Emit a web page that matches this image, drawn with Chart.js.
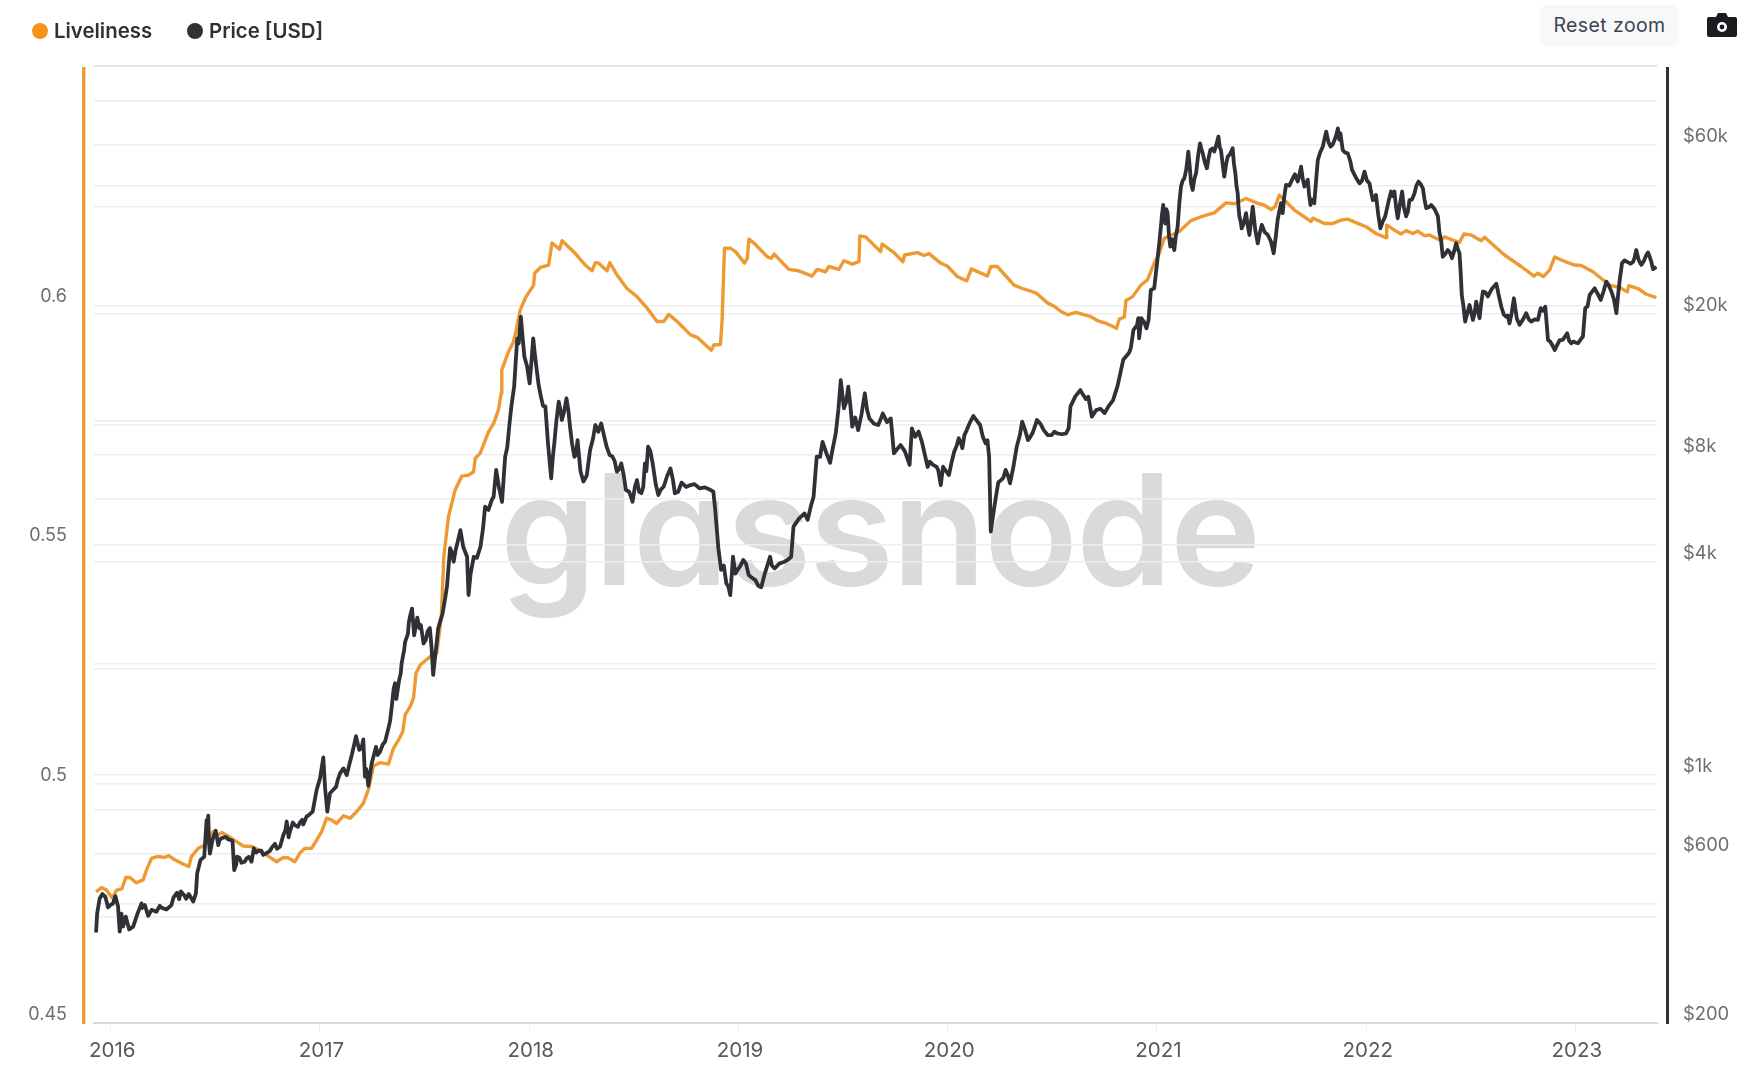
<!DOCTYPE html>
<html lang="en">
<head>
    <meta charset="UTF-8">
    <title>Liveliness vs Price</title>
    <style>
        body {
            font-family: 'Inter', sans-serif;
            margin: 0;
            padding: 0;
            background-color: #fff;
            width: 1755px;
            height: 1080px;
            position: relative;
            overflow: hidden;
        }

        #chartContainer {
            position: absolute;
            left: 0;
            top: 0;
        }

        #watermark {
            position: absolute;
            left: 500px;
            top: 434px;
            font-size: 154px;
            line-height: 190px;
            font-weight: 600;
            color: #dadada;
            font-feature-settings: 'cv11';
            letter-spacing: -2px;
        }

        .legendItem {
            position: absolute;
            top: 19px;
            font-size: 20.4px;
            line-height: 24px;
            font-weight: 600;
            color: #2f3136;
        }

        .legendItem i {
            position: absolute;
            left: -22px;
            top: 4px;
            width: 16px;
            height: 16px;
            border-radius: 50%;
        }

        #resetZoom {
            position: absolute;
            left: 1540px;
            top: 5px;
            width: 139px;
            height: 41px;
            line-height: 40px;
            text-align: center;
            background-color: #f7f8fa;
            border-radius: 6px;
            font-size: 19.5px;
            letter-spacing: 0.4px;
            color: #3c4250;
        }

        #camera {
            position: absolute;
            left: 1707px;
            top: 12px;
        }
    </style>
</head>
<body>
    <div id="watermark">glassnode</div>
    <canvas id="chartContainer" width="1755" height="1080"></canvas>

    <div class="legendItem" style="left: 54px"><i style="background: #f7931a"></i>Liveliness</div>
    <div class="legendItem" style="left: 209px"><i style="background: #2f3136"></i>Price [USD]</div>
    <div id="resetZoom">Reset zoom</div>
    <svg id="camera" width="30" height="26" viewBox="0 0 30 26">
        <path d="M2 5h7l2-4h8l2 4h7a2 2 0 0 1 2 2v16a2 2 0 0 1-2 2H2a2 2 0 0 1-2-2V7a2 2 0 0 1 2-2z" fill="#1b1c1f"/>
        <circle cx="15" cy="15" r="5" fill="#fff"/>
        <circle cx="15" cy="15" r="2.4" fill="#1b1c1f"/>
    </svg>

    <script src="https://cdn.jsdelivr.net/npm/chart.js"></script>
    <script>
        const yearTicks = [2016, 2017, 2018, 2019, 2020, 2021, 2022, 2023];
        const liveTicks = [0.45, 0.475, 0.5, 0.525, 0.55, 0.575, 0.6, 0.625, 0.65];
        const liveTickLabels = ['0.45', '', '0.5', '', '0.55', '', '0.6', '', ''];
        const priceTicks = [200, 400, 600, 800, 1000, 2000, 4000, 6000, 8000, 10000, 20000, 40000, 60000, 80000, 100000];
        const priceTickLabels = ['$200', '', '$600', '', '$1k', '', '$4k', '', '$8k', '', '$20k', '', '$60k', '', ''];

        const liveDates = [
            2015.93, 2015.956, 2015.979, 2016.008, 2016.027, 2016.054, 2016.072, 2016.091, 2016.123, 2016.155, 2016.171, 2016.195,
            2016.226, 2016.258, 2016.277, 2016.306, 2016.338, 2016.373, 2016.386, 2016.418, 2016.45, 2016.49, 2016.514, 2016.53,
            2016.57, 2016.601, 2016.633, 2016.673, 2016.705, 2016.745, 2016.793, 2016.825, 2016.849, 2016.88, 2016.904, 2016.928,
            2016.96, 2016.984, 2017.008, 2017.032, 2017.056, 2017.08, 2017.112, 2017.144, 2017.176, 2017.207, 2017.231, 2017.255,
            2017.287, 2017.327, 2017.351, 2017.375, 2017.396, 2017.407, 2017.431, 2017.447, 2017.459, 2017.479, 2017.527, 2017.558,
            2017.566, 2017.58, 2017.592, 2017.614, 2017.646, 2017.678, 2017.71, 2017.734, 2017.742, 2017.766, 2017.806, 2017.83,
            2017.853, 2017.866, 2017.869, 2017.901, 2017.925, 2017.938, 2017.957, 2017.981, 2018.021, 2018.026, 2018.053, 2018.093,
            2018.109, 2018.145, 2018.157, 2018.212, 2018.268, 2018.3, 2018.316, 2018.332, 2018.372, 2018.385, 2018.42, 2018.467,
            2018.515, 2018.563, 2018.611, 2018.643, 2018.667, 2018.707, 2018.771, 2018.803, 2018.87, 2018.882, 2018.914, 2018.922,
            2018.933, 2018.962, 2018.986, 2019.029, 2019.042, 2019.05, 2019.074, 2019.138, 2019.157, 2019.17, 2019.241, 2019.288,
            2019.352, 2019.376, 2019.416, 2019.432, 2019.48, 2019.504, 2019.544, 2019.576, 2019.58, 2019.607, 2019.679, 2019.687,
            2019.743, 2019.786, 2019.794, 2019.855, 2019.887, 2019.911, 2019.966, 2019.998, 2020.046, 2020.091, 2020.113, 2020.19,
            2020.206, 2020.237, 2020.317, 2020.357, 2020.421, 2020.477, 2020.509, 2020.541, 2020.573, 2020.612, 2020.684, 2020.716,
            2020.764, 2020.807, 2020.82, 2020.844, 2020.852, 2020.884, 2020.923, 2020.955, 2020.987, 2021.011, 2021.035, 2021.107,
            2021.163, 2021.211, 2021.274, 2021.33, 2021.37, 2021.426, 2021.482, 2021.514, 2021.546, 2021.565, 2021.585, 2021.609,
            2021.657, 2021.737, 2021.745, 2021.801, 2021.841, 2021.88, 2021.912, 2021.96, 2022.0, 2022.047, 2022.095, 2022.098,
            2022.135, 2022.167, 2022.191, 2022.223, 2022.247, 2022.279, 2022.303, 2022.358, 2022.374, 2022.446, 2022.467, 2022.502,
            2022.55, 2022.566, 2022.661, 2022.741, 2022.802, 2022.821, 2022.847, 2022.877, 2022.901, 2022.941, 2022.996, 2023.028,
            2023.084, 2023.124, 2023.164, 2023.212, 2023.248, 2023.255, 2023.299, 2023.339, 2023.387
        ];
        const liveValues = [
            0.4774, 0.4783, 0.4778, 0.4761, 0.4777, 0.4781, 0.4804, 0.4804, 0.4793, 0.4799, 0.482, 0.4844,
            0.4848, 0.4846, 0.485, 0.4841, 0.4834, 0.4827, 0.4848, 0.4865, 0.4872, 0.49, 0.4893, 0.4898,
            0.4888, 0.4879, 0.487, 0.4869, 0.4862, 0.4851, 0.4837, 0.4846, 0.4845, 0.4837, 0.4855, 0.4865,
            0.4865, 0.4882, 0.49, 0.4928, 0.4924, 0.4917, 0.4933, 0.4928, 0.4942, 0.4959, 0.4987, 0.5037,
            0.5044, 0.5041, 0.5074, 0.5091, 0.5109, 0.5144, 0.5161, 0.5179, 0.5231, 0.5248, 0.5266, 0.5273,
            0.53, 0.5349, 0.5475, 0.5558, 0.5614, 0.5643, 0.5645, 0.5652, 0.568, 0.5691, 0.5736, 0.5753,
            0.5781, 0.5816, 0.5865, 0.5903, 0.5924, 0.5948, 0.599, 0.6015, 0.6042, 0.6067, 0.6079, 0.6084,
            0.613, 0.6117, 0.6135, 0.6112, 0.6084, 0.6072, 0.6089, 0.6088, 0.6072, 0.6089, 0.6063, 0.6035,
            0.6018, 0.5994, 0.5966, 0.5966, 0.5981, 0.5966, 0.5938, 0.5933, 0.5906, 0.5917, 0.5918, 0.5969,
            0.6119, 0.6119, 0.6112, 0.6088, 0.6098, 0.6138, 0.613, 0.6101, 0.6098, 0.6107, 0.6075, 0.6072,
            0.6061, 0.6075, 0.607, 0.6081, 0.6075, 0.6093, 0.6086, 0.6091, 0.6145, 0.6143, 0.6112, 0.6128,
            0.611, 0.6091, 0.6105, 0.611, 0.6104, 0.6108, 0.6088, 0.6082, 0.606, 0.6051, 0.6076, 0.6061,
            0.6081, 0.6081, 0.6042, 0.6035, 0.6026, 0.6005, 0.5998, 0.5987, 0.598, 0.5985, 0.5976, 0.5968,
            0.5961, 0.5952, 0.5971, 0.5975, 0.601, 0.6018, 0.6042, 0.6053, 0.6088, 0.6108, 0.614, 0.6154,
            0.6177, 0.6185, 0.6193, 0.6214, 0.6212, 0.6223, 0.6213, 0.6209, 0.62, 0.6206, 0.623, 0.622,
            0.6199, 0.6175, 0.6182, 0.6171, 0.6171, 0.6178, 0.618, 0.6171, 0.6164, 0.615, 0.6141, 0.6168,
            0.6157, 0.6149, 0.6156, 0.615, 0.6155, 0.6145, 0.6147, 0.6135, 0.6143, 0.6131, 0.6149, 0.6147,
            0.6135, 0.6142, 0.6105, 0.6081, 0.6061, 0.6067, 0.606, 0.6074, 0.6101, 0.6093, 0.6084, 0.6083,
            0.607, 0.6056, 0.6042, 0.6037, 0.6028, 0.6041, 0.6035, 0.6023, 0.6016
        ];

        const priceDates = [
            2015.93, 2015.935, 2015.947, 2015.96, 2015.974, 2015.987, 2015.998, 2016.011, 2016.022, 2016.035, 2016.043, 2016.051,
            2016.059, 2016.072, 2016.088, 2016.107, 2016.128, 2016.147, 2016.163, 2016.179, 2016.195, 2016.218, 2016.242, 2016.266,
            2016.29, 2016.317, 2016.327, 2016.354, 2016.373, 2016.394, 2016.407, 2016.413, 2016.429, 2016.447, 2016.458, 2016.466,
            2016.474, 2016.486, 2016.502, 2016.514, 2016.529, 2016.55, 2016.582, 2016.59, 2016.604, 2016.625, 2016.649, 2016.673,
            2016.684, 2016.705, 2016.729, 2016.761, 2016.785, 2016.809, 2016.825, 2016.841, 2016.856, 2016.88, 2016.904, 2016.92,
            2016.936, 2016.965, 2016.984, 2017.0, 2017.016, 2017.024, 2017.035, 2017.048, 2017.077, 2017.096, 2017.112, 2017.128,
            2017.152, 2017.172, 2017.188, 2017.207, 2017.215, 2017.231, 2017.247, 2017.268, 2017.287, 2017.311, 2017.327, 2017.343,
            2017.359, 2017.37, 2017.386, 2017.396, 2017.407, 2017.42, 2017.43, 2017.44, 2017.45, 2017.465, 2017.482, 2017.505,
            2017.525, 2017.541, 2017.565, 2017.586, 2017.607, 2017.622, 2017.639, 2017.671, 2017.703, 2017.71, 2017.735, 2017.767,
            2017.789, 2017.821, 2017.842, 2017.87, 2017.885, 2017.906, 2017.928, 2017.943, 2017.96, 2017.977, 2018.002, 2018.019,
            2018.034, 2018.056, 2018.077, 2018.105, 2018.12, 2018.141, 2018.156, 2018.178, 2018.195, 2018.216, 2018.231, 2018.259,
            2018.291, 2018.316, 2018.344, 2018.37, 2018.398, 2018.419, 2018.44, 2018.462, 2018.494, 2018.515, 2018.536, 2018.553,
            2018.568, 2018.59, 2018.617, 2018.643, 2018.675, 2018.696, 2018.728, 2018.771, 2018.814, 2018.867, 2018.889, 2018.904,
            2018.917, 2018.942, 2018.961, 2018.974, 2018.996, 2019.023, 2019.049, 2019.081, 2019.109, 2019.124, 2019.151, 2019.173,
            2019.22, 2019.252, 2019.263, 2019.316, 2019.331, 2019.359, 2019.374, 2019.402, 2019.438, 2019.465, 2019.489, 2019.504,
            2019.525, 2019.544, 2019.572, 2019.604, 2019.626, 2019.668, 2019.69, 2019.728, 2019.743, 2019.775, 2019.818, 2019.829,
            2019.861, 2019.893, 2019.914, 2019.946, 2019.967, 2019.978, 2020.006, 2020.031, 2020.053, 2020.07, 2020.091, 2020.123,
            2020.155, 2020.181, 2020.198, 2020.206, 2020.228, 2020.256, 2020.277, 2020.298, 2020.33, 2020.356, 2020.384, 2020.405,
            2020.427, 2020.459, 2020.497, 2020.523, 2020.566, 2020.587, 2020.634, 2020.66, 2020.672, 2020.689, 2020.71, 2020.73,
            2020.75, 2020.77, 2020.79, 2020.812, 2020.839, 2020.866, 2020.875, 2020.888, 2020.911, 2020.915, 2020.926, 2020.95,
            2020.96, 2020.971, 2020.987, 2021.006, 2021.019, 2021.03, 2021.04, 2021.051, 2021.064, 2021.083, 2021.099, 2021.115,
            2021.131, 2021.15, 2021.163, 2021.171, 2021.187, 2021.206, 2021.219, 2021.239, 2021.255, 2021.274, 2021.294, 2021.306,
            2021.322, 2021.338, 2021.362, 2021.375, 2021.386, 2021.394, 2021.405, 2021.426, 2021.442, 2021.458, 2021.482, 2021.501,
            2021.53, 2021.558, 2021.577, 2021.593, 2021.601, 2021.617, 2021.649, 2021.673, 2021.689, 2021.705, 2021.721, 2021.734,
            2021.752, 2021.769, 2021.793, 2021.809, 2021.83, 2021.849, 2021.865, 2021.877, 2021.888, 2021.912, 2021.925, 2021.941,
            2021.968, 2021.992, 2022.016, 2022.032, 2022.047, 2022.068, 2022.091, 2022.119, 2022.135, 2022.151, 2022.172, 2022.191,
            2022.207, 2022.231, 2022.25, 2022.271, 2022.287, 2022.311, 2022.343, 2022.358, 2022.366, 2022.39, 2022.41, 2022.43,
            2022.446, 2022.457, 2022.473, 2022.494, 2022.51, 2022.526, 2022.542, 2022.558, 2022.582, 2022.622, 2022.646, 2022.669,
            2022.685, 2022.706, 2022.733, 2022.765, 2022.789, 2022.821, 2022.834, 2022.856, 2022.869, 2022.893, 2022.901, 2022.925,
            2022.961, 2022.98, 2023.012, 2023.036, 2023.047, 2023.068, 2023.092, 2023.121, 2023.148, 2023.172, 2023.196, 2023.212,
            2023.223, 2023.252, 2023.276, 2023.291, 2023.315, 2023.339, 2023.355, 2023.371, 2023.387
        ];
        const priceValues = [
            360, 407, 449, 462, 454, 424, 430, 435, 456, 426, 362, 407,
            374, 399, 367, 374, 407, 435, 430, 401, 417, 412, 423, 418,
            430, 466, 447, 456, 462, 440, 464, 528, 577, 589, 747, 769,
            601, 656, 697, 635, 664, 670, 653, 540, 589, 566, 582, 570,
            622, 612, 596, 612, 640, 628, 678, 740, 692, 723, 735, 726,
            764, 789, 908, 979, 1122, 927, 789, 889, 927, 1012, 1045, 1000,
            1140, 1288, 1178, 1262, 991, 933, 1079, 1202, 1164, 1242, 1355, 1560,
            1816, 1718, 1936, 2158, 2377, 2500, 2800, 2950, 2480, 2780, 2650, 2400,
            2600, 1917, 2594, 2858, 3404, 4365, 3999, 4909, 4130, 3221, 4130, 4406,
            5715, 5970, 7261, 5902, 7907, 9817, 12470, 17060, 19630, 15136, 12735, 17060,
            14190, 11680, 10965, 6871, 8630, 11300, 10040, 11560, 9610, 7907, 8810, 6730,
            8260, 9716, 9817, 8440, 7907, 7178, 7573, 6368, 5902, 6795, 6237, 7573,
            8440, 7573, 6166, 6516, 7328, 6237, 6683, 6577, 6442, 6368, 5598, 4365,
            3793, 3475, 3221, 4130, 3793, 4046, 3669, 3548, 3388, 3669, 4130, 3828,
            3999, 4130, 5023, 5470, 5248, 6095, 7907, 8710, 7603, 9204, 13000, 10830,
            12470, 9610, 9400, 11940, 10140, 9716, 10470, 10140, 8090, 8530, 7500, 9506,
            9311, 7907, 7656, 7413, 6577, 7413, 7022, 8166, 8913, 8356, 9400, 10300,
            9716, 8630, 7907, 4864, 5970, 6795, 7261, 6653, 8440, 9931, 8810, 9204,
            10040, 9400, 9099, 9204, 9204, 10965, 12190, 11500, 11680, 10257, 10700, 10800,
            10500, 11000, 11400, 12530, 14840, 15500, 16000, 18030, 19440, 17060, 19440, 18200,
            19230, 23350, 23600, 29650, 35240, 40550, 35970, 38460, 30970, 30270, 35240, 45700,
            48190, 57350, 46670, 44700, 49800, 60530, 56750, 51460, 57940, 57350, 63240, 57940,
            48750, 55460, 58610, 49800, 43750, 37670, 34830, 38460, 33380, 40090, 31620, 35650,
            33380, 29650, 36810, 41020, 38460, 46190, 48190, 47210, 52000, 45700, 47750, 40550,
            41020, 54330, 59250, 65310, 59250, 61860, 66680, 64570, 57940, 56750, 53700, 49800,
            46670, 50350, 46670, 41880, 43250, 34830, 37670, 44260, 44260, 37200, 44260, 37670,
            41880, 43750, 47210, 45190, 39720, 40550, 37670, 32300, 28970, 30270, 28710, 31620,
            29650, 22590, 19010, 21180, 19230, 21660, 19440, 23120, 22390, 24320, 20940, 19630,
            18800, 22130, 18620, 20090, 19010, 19230, 20750, 20940, 16870, 16180, 15810, 16870,
            17620, 16520, 16520, 17260, 20750, 22590, 23600, 21880, 24660, 23120, 20090, 24950,
            27800, 27930, 28050, 30270, 27480, 29310, 28970, 26730, 27160
        ];

        // the finer wiggles of the price line
        const detailDates = [
            2016.15, 2016.235, 2016.3, 2016.335, 2016.36, 2016.46, 2016.47, 2016.495, 2016.52, 2016.56, 2016.6, 2016.615,
            2016.64, 2016.66, 2016.695, 2016.72, 2016.75, 2016.77, 2016.795, 2016.835, 2016.85, 2016.87, 2016.895, 2016.915,
            2016.95, 2016.975, 2017.04, 2017.06, 2017.085, 2017.14, 2017.165, 2017.2, 2017.222, 2017.24, 2017.275, 2017.3,
            2017.335, 2017.352, 2017.365, 2017.378, 2017.39, 2017.402, 2017.425, 2017.475, 2017.495, 2017.515, 2017.533, 2017.575,
            2017.6, 2017.615, 2017.63, 2017.648, 2017.66, 2017.685, 2017.72, 2017.75, 2017.78, 2017.805, 2017.83, 2017.855,
            2017.895, 2017.915, 2017.935, 2017.95, 2017.968, 2017.99, 2018.01, 2018.027, 2018.045, 2018.066, 2018.09, 2018.113,
            2018.13, 2018.148, 2018.167, 2018.187, 2018.205, 2018.223, 2018.245, 2018.275, 2018.305, 2018.33, 2018.357, 2018.384,
            2018.408, 2018.43, 2018.452, 2018.478, 2018.505, 2018.525, 2018.545, 2018.56, 2018.579, 2018.605, 2018.63, 2018.66,
            2018.687, 2018.712, 2018.75, 2018.79, 2018.84, 2018.88, 2018.91, 2018.93, 2018.952, 2018.985, 2019.01, 2019.036,
            2019.065, 2019.095, 2019.135, 2019.16, 2019.195, 2019.236, 2019.29, 2019.345, 2019.39, 2019.42, 2019.45, 2019.478,
            2019.515, 2019.535, 2019.558, 2019.588, 2019.615, 2019.648, 2019.68, 2019.71, 2019.758, 2019.795, 2019.845, 2019.877,
            2019.904, 2019.93, 2019.955, 2019.992, 2020.018, 2020.043, 2020.062, 2020.08, 2020.107, 2020.139, 2020.168, 2020.19,
            2020.217, 2020.242, 2020.266, 2020.288, 2020.314, 2020.345, 2020.37, 2020.395, 2020.416, 2020.443, 2020.478, 2020.51,
            2020.545, 2020.578, 2020.61, 2020.648, 2020.905, 2020.94, 2020.995, 2021.012, 2021.024, 2021.035, 2021.045, 2021.058,
            2021.072, 2021.09, 2021.107, 2021.123, 2021.14, 2021.157, 2021.179, 2021.197, 2021.212, 2021.229, 2021.247, 2021.265,
            2021.284, 2021.3, 2021.314, 2021.33, 2021.35, 2021.368, 2021.38, 2021.39, 2021.4, 2021.415, 2021.434, 2021.45,
            2021.47, 2021.49, 2021.515, 2021.545, 2021.568, 2021.585, 2021.609, 2021.633, 2021.66, 2021.68, 2021.697, 2021.712,
            2021.727, 2021.743, 2021.76, 2021.78, 2021.8, 2021.82, 2021.84, 2021.857, 2021.871, 2021.9, 2021.932, 2021.955,
            2021.98, 2022.004, 2022.024, 2022.04, 2022.058, 2022.08, 2022.105, 2022.127, 2022.143, 2022.162, 2022.18, 2022.2,
            2022.219, 2022.24, 2022.26, 2022.279, 2022.3, 2022.327, 2022.35, 2022.378, 2022.4, 2022.42, 2022.438, 2022.452,
            2022.465, 2022.483, 2022.502, 2022.518, 2022.534, 2022.55, 2022.57, 2022.6, 2022.634, 2022.658, 2022.677, 2022.695,
            2022.72, 2022.75, 2022.777, 2022.805, 2022.845, 2022.862, 2022.88, 2022.912, 2022.94, 2022.97, 2022.99, 2023.0,
            2023.024, 2023.058, 2023.08, 2023.106, 2023.135, 2023.16, 2023.184, 2023.204, 2023.235, 2023.264, 2023.283, 2023.303,
            2023.327, 2023.347, 2023.363, 2023.379
        ];
        const detailValues = [
            422, 428, 452, 470, 448, 700, 640, 680, 655, 660, 560, 585,
            570, 588, 605, 612, 605, 625, 620, 700, 668, 735, 715, 748,
            775, 850, 830, 905, 970, 1070, 1230, 1200, 1040, 1010, 1140, 1220,
            1420, 1750, 1640, 1850, 2060, 2250, 2700, 2600, 2350, 2550, 2300, 2720,
            3200, 3900, 4250, 4300, 4600, 4400, 3700, 4100, 5000, 5600, 6100, 6500,
            8400, 11000, 14500, 16500, 17300, 14200, 14500, 15400, 12600, 11000, 8600, 7900,
            10000, 10800, 10600, 10700, 8600, 8000, 7200, 7000, 8900, 9300, 9100, 8000,
            7700, 7300, 7000, 6300, 6500, 6300, 6500, 7200, 8200, 6600, 6400, 7000,
            6800, 6300, 6500, 6620, 6480, 6300, 4100, 3900, 3400, 3700, 3900, 3950,
            3600, 3420, 3850, 3900, 3950, 4050, 5300, 5700, 7900, 8100, 8300, 10800,
            11300, 11000, 10200, 10400, 10700, 9800, 10100, 9900, 8300, 8200, 9000, 8700,
            7400, 7500, 7250, 7200, 7600, 8500, 8700, 9100, 9900, 10000, 9000, 8800,
            5400, 6700, 6900, 7000, 7400, 9100, 9400, 9000, 9600, 9800, 9100, 9300,
            9150, 9500, 11700, 11800, 18600, 18900, 26000, 32000, 38000, 37000, 39500, 33000,
            32500, 33000, 41000, 47500, 51000, 52000, 48000, 56000, 58500, 53500, 55000, 58500,
            60000, 59000, 53000, 52500, 56500, 53000, 46000, 40000, 36500, 36000, 35500, 36500,
            34500, 33500, 34000, 32000, 33000, 39000, 43000, 46000, 49500, 49000, 48000, 46500,
            43500, 42000, 47000, 57000, 62000, 61000, 60000, 64000, 62000, 57000, 51000, 48000,
            47500, 47500, 44000, 42000, 38000, 36500, 41000, 43000, 40000, 41000, 40000, 39000,
            42000, 46000, 46500, 42000, 40000, 39500, 34000, 29500, 29800, 30000, 30500, 26000,
            21000, 20000, 20200, 20000, 20500, 21500, 23000, 23500, 22500, 19900, 19800, 20000,
            19400, 19300, 19300, 19300, 20400, 19000, 16700, 16300, 16900, 16800, 16700, 16600,
            16900, 21000, 23100, 22800, 23200, 24000, 22000, 22600, 28300, 27700, 28800, 28300,
            28200, 29800, 28000, 26900
        ];

        // zip dates and values into what the line dataset wants, oldest first
        const toPoints = (dates, values) => dates
            .map((d, i) => ({ x: d, y: values[i] }))
            .sort((a, b) => a.x - b.x);

        // the two coloured axis bars sit a little outside the plot
        const axisBars = {
            id: 'axisBars',
            afterDraw(chart) {
                const { ctx, chartArea } = chart;
                ctx.save();
                ctx.fillStyle = '#ee9a33';
                ctx.fillRect(chartArea.left - 12, chartArea.top + 1, 3.4, chartArea.height);
                ctx.fillStyle = '#2f3136';
                ctx.fillRect(chartArea.right + 9, chartArea.top + 1, 3, chartArea.height);
                ctx.restore();
            }
        };

        new Chart(document.getElementById('chartContainer').getContext('2d'), {
            type: 'line',
            data: {
                datasets: [
                    {
                        label: 'Price [USD]',
                        data: toPoints(priceDates.concat(detailDates), priceValues.concat(detailValues)),
                        yAxisID: 'yPrice',
                        borderColor: '#2f3136',
                        borderWidth: 3.8,
                        borderJoinStyle: 'round',
                        pointRadius: 0,
                        tension: 0,
                        order: 1
                    },
                    {
                        label: 'Liveliness',
                        data: toPoints(liveDates, liveValues),
                        yAxisID: 'yLive',
                        borderColor: '#ee9a33',
                        borderWidth: 3.4,
                        borderJoinStyle: 'round',
                        pointRadius: 0,
                        tension: 0,
                        order: 2
                    }
                ]
            },
            options: {
                responsive: false,
                animation: false,
                layout: { padding: { top: 66 } },
                plugins: { legend: { display: false }, tooltip: { enabled: false } },
                scales: {
                    x: {
                        type: 'linear',
                        min: 2015.92,
                        max: 2023.39,
                        afterBuildTicks(scale) { scale.ticks = yearTicks.map(v => ({ value: v })); },
                        afterFit(scale) { scale.height = 57; },
                        grid: { drawOnChartArea: false, tickLength: 8, color: '#eeeeee' },
                        border: { color: '#d9d9d9', width: 2 },
                        ticks: {
                            autoSkip: false,
                            maxRotation: 0,
                            padding: 8,
                            labelOffset: 1.5,
                            color: '#555a60',
                            font: { family: 'Inter', size: 20.5 },
                            callback: value => String(value)
                        }
                    },
                    yLive: {
                        position: 'left',
                        min: 0.45,
                        max: 0.65,
                        afterBuildTicks(scale) { scale.ticks = liveTicks.map(v => ({ value: v })); },
                        afterFit(scale) { scale.width = 94; },
                        grid: {
                            drawTicks: false,
                            color: ctx => (ctx.tick && ctx.tick.value === 0.65 ? '#dfdfdf' : '#eeeeee'),
                            lineWidth: 1.5
                        },
                        border: { display: false },
                        ticks: {
                            autoSkip: false,
                            padding: 27,
                            labelOffset: -8.5,
                            color: '#6b6f75',
                            font: { family: 'Inter', size: 18 },
                            callback: (value, index) => liveTickLabels[index]
                        }
                    },
                    yPrice: {
                        type: 'logarithmic',
                        position: 'right',
                        min: 200,
                        max: 100000,
                        afterBuildTicks(scale) { scale.ticks = priceTicks.map(v => ({ value: v })); },
                        afterFit(scale) { scale.width = 98; },
                        grid: { drawTicks: false, color: ctx => (ctx.tick && ctx.tick.value === 100000 ? '#dfdfdf' : '#eeeeee'), lineWidth: 1.5 },
                        border: { display: false },
                        ticks: {
                            autoSkip: false,
                            padding: 26,
                            labelOffset: -8.5,
                            color: '#6b6f75',
                            font: { family: 'Inter', size: 18.4 },
                            callback: (value, index) => priceTickLabels[index]
                        }
                    }
                }
            },
            plugins: [axisBars]
        });
    </script>
</body>
</html>
